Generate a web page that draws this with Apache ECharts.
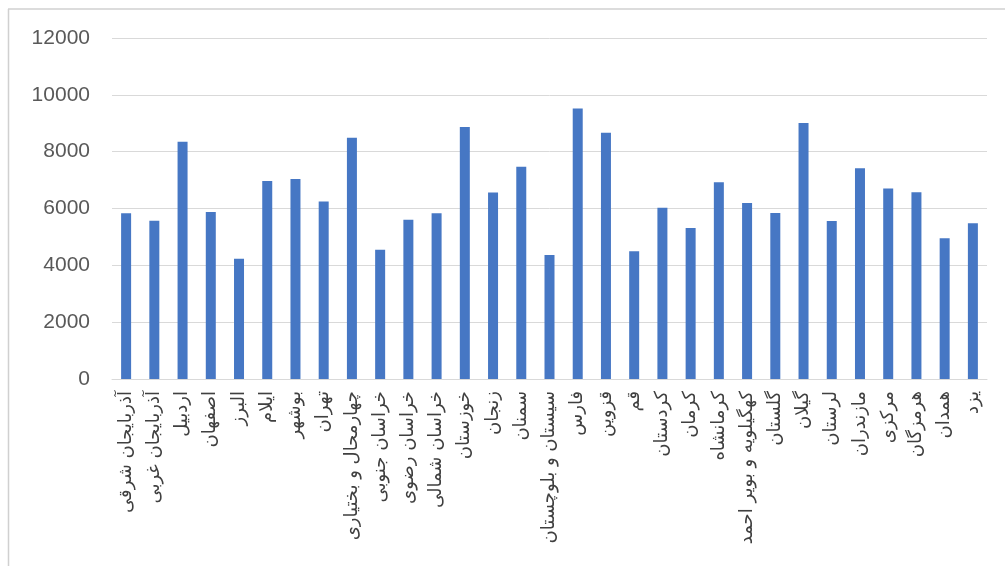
<!DOCTYPE html>
<html>
<head>
<meta charset="utf-8">
<style>
html,body{margin:0;padding:0;background:#fff;}
#chart{width:1005px;height:566px;}
</style>
<script src="https://cdn.jsdelivr.net/npm/echarts@6/dist/echarts.min.js"></script>
</head>
<body>
<div id="chart"></div>
<script>
const categories = [
  'آذربایجان شرقی','آذربایجان غربی','اردبیل','اصفهان','البرز','ایلام','بوشهر','تهران',
  'چهارمحال و بختیاری','خراسان جنوبی','خراسان رضوی','خراسان شمالی','خوزستان','زنجان','سمنان',
  'سیستان و بلوچستان','فارس','قزوین','قم','کردستان','کرمان','کرمانشاه','کهگیلویه و بویر احمد',
  'گلستان','گیلان','لرستان','مازندران','مرکزی','هرمزگان','همدان','یزد'
];
const values = [
  5830, 5570, 8350, 5880, 4230, 6970, 7040, 6250,
  8490, 4550, 5600, 5830, 8870, 6560, 7470,
  4360, 9520, 8670, 4500, 6030, 5310, 6920, 6190,
  5840, 9010, 5560, 7420, 6700, 6570, 4950, 5480
];
const yTicks = { min: 0, max: 12000, interval: 2000 };

const chart = echarts.init(document.getElementById('chart'), null, { renderer: 'canvas' });
chart.setOption({
  backgroundColor: '#ffffff',
  animation: false,
  grid: { left: 112, right: 18, top: 38, bottom: 187 },
  xAxis: {
    type: 'category',
    data: categories,
    axisLine: { show: true, lineStyle: { color: '#d9d9d9', width: 1 } },
    axisTick: { show: false },
    axisLabel: {
      interval: 0,
      rotate: 90,
      margin: 12,
      color: '#404040',
      fontSize: 18,
      fontFamily: 'DejaVu Sans'
    }
  },
  yAxis: {
    type: 'value',
    min: yTicks.min,
    max: yTicks.max,
    interval: yTicks.interval,
    axisLine: { show: false },
    axisTick: { show: false },
    axisLabel: {
      color: '#595959',
      fontSize: 21,
      fontFamily: 'Liberation Sans',
      margin: 22,
      formatter: function (v) { return String(v); }
    },
    splitLine: { lineStyle: { color: '#d9d9d9', width: 1 } }
  },
  series: [{
    type: 'bar',
    data: values,
    barWidth: 10,
    itemStyle: { color: '#4677c4' }
  }],
  graphic: [
    { type: 'line', shape: { x1: 8.5, y1: 9, x2: 8.5, y2: 566 }, style: { stroke: '#d0d0d0', lineWidth: 1.5 }, silent: true },
    { type: 'line', shape: { x1: 8, y1: 9, x2: 1005, y2: 9 }, style: { stroke: '#d0d0d0', lineWidth: 1.5 }, silent: true }
  ]
});
</script>
</body>
</html>
